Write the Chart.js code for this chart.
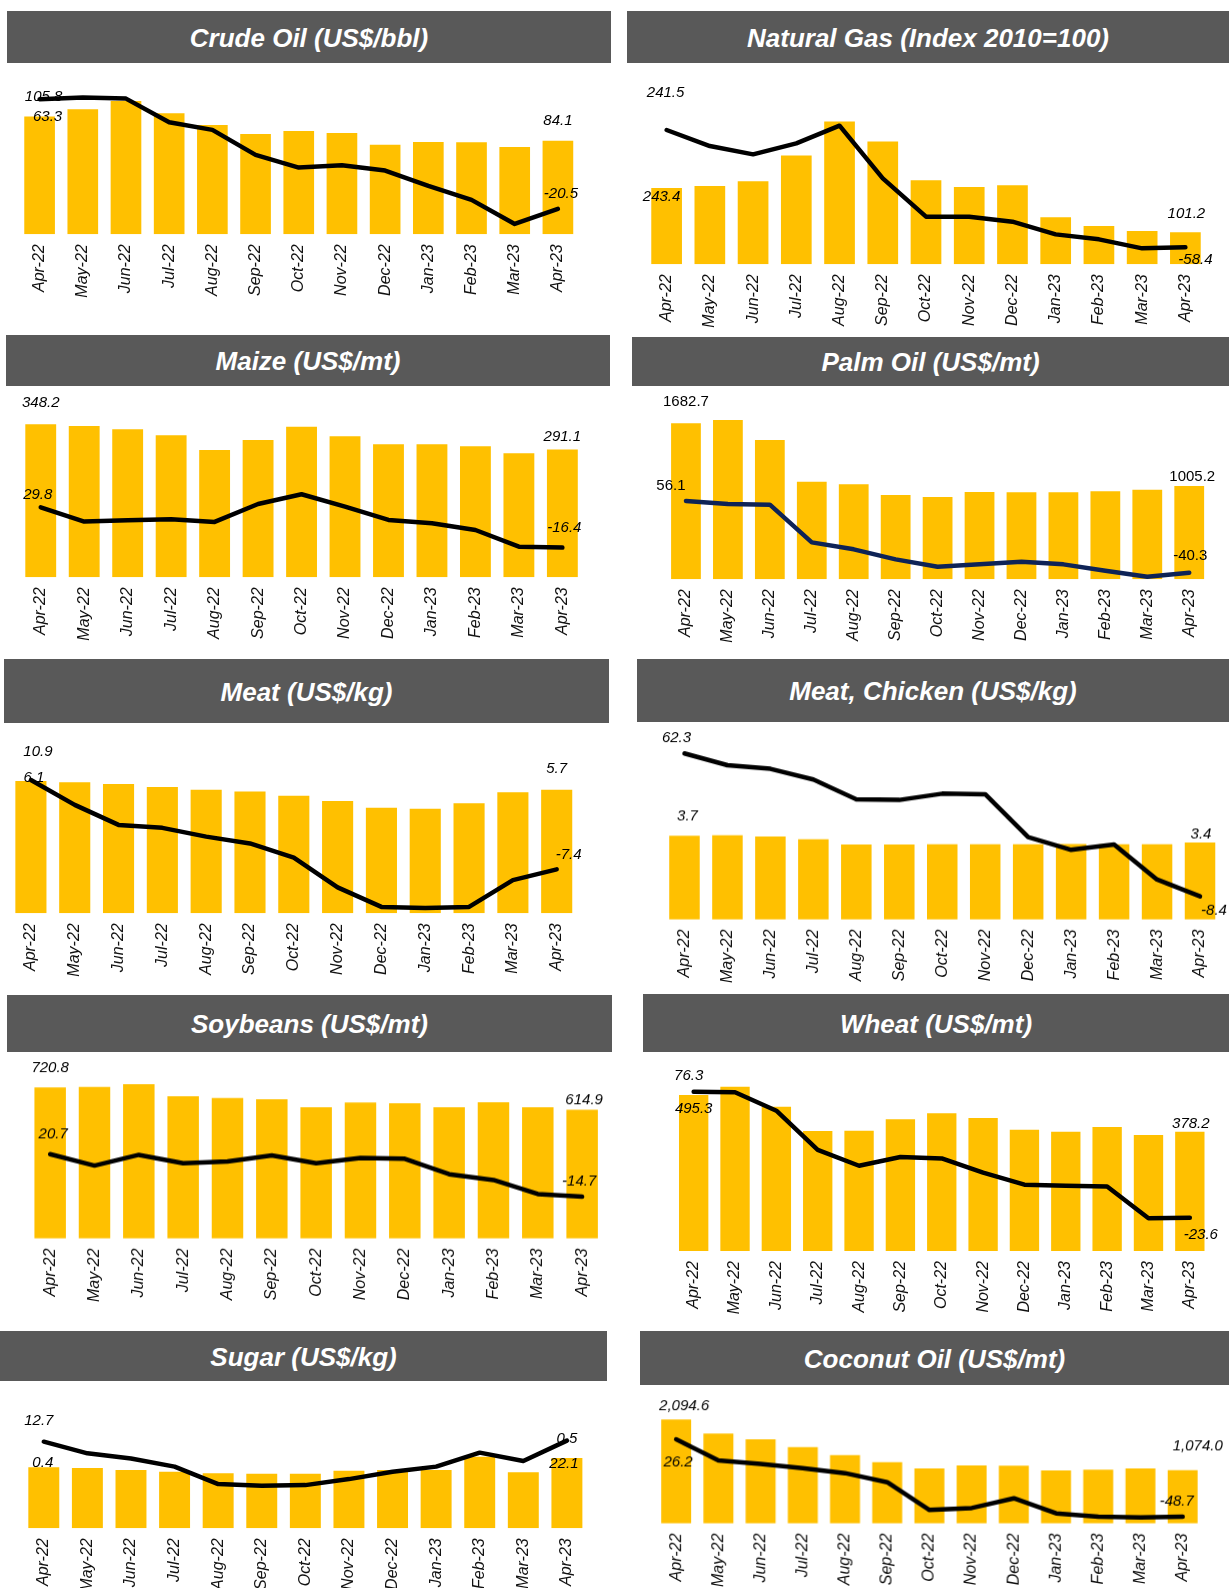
<!DOCTYPE html>
<html>
<head>
<meta charset="utf-8">
<script src="https://cdn.jsdelivr.net/npm/chart.js@4.4.0/dist/chart.umd.min.js"></script>
<style>
  html, body { margin: 0; padding: 0; background: #fff; overflow: hidden; }
  #page { position: relative; width: 1229px; height: 1588px; overflow: hidden; }
  .hdr { position: absolute; background: #595959; color: #fff; font: italic bold 26px "Liberation Sans", Arial, sans-serif;
         display: flex; align-items: center; justify-content: center; white-space: nowrap; padding-top: 2px; box-sizing: border-box; }
  .box { position: absolute; }
</style>
</head>
<body>
<div id="page"></div>
<script>
/* Commodity prices (bars) and y/y change in % (line) */
const months = ['Apr-22','May-22','Jun-22','Jul-22','Aug-22','Sep-22','Oct-22','Nov-22','Dec-22','Jan-23','Feb-23','Mar-23','Apr-23'];

const crudePrice   = [105.8, 112.4, 119.9, 108.8, 98.3, 90.2, 92.9, 91.1, 80.6, 83.0, 82.7, 78.5, 84.1];
const crudeYoY     = [63.3, 64.6, 63.8, 45.7, 39.9, 20.8, 11.1, 12.9, 8.8, -2.9, -13.6, -32.0, -20.5];
const gasIndex     = [241.5, 248, 263, 344, 452, 389, 266, 245, 250, 149, 121, 105, 101.2];
const gasYoY       = [243.4, 202.2, 180.8, 209.1, 254.5, 119.1, 20.5, 20.5, 7.6, -25.0, -37.8, -61.0, -58.4];
const maizePrice   = [348.2, 344.4, 336.8, 323.2, 289.8, 312.5, 342.9, 320.9, 302.7, 302.7, 298.1, 282.2, 291.1];
const maizeYoY     = [29.8, 13.4, 14.9, 16.1, 13.0, 33.6, 44.7, 30.6, 15.3, 11.5, 3.8, -15.3, -16.4];
const palmPrice    = [1682.7, 1718.6, 1502.9, 1053.5, 1024.7, 909.7, 888.1, 942.0, 938.4, 938.4, 949.2, 967.2, 1005.2];
const palmYoY      = [56.1, 52.1, 51.2, 0.5, -8.9, -22.4, -32.2, -29.1, -25.5, -29.1, -37.6, -45.7, -40.3];
const meatPrice    = [6.1, 6.04, 5.96, 5.82, 5.69, 5.62, 5.42, 5.18, 4.86, 4.82, 5.07, 5.58, 5.7];
const meatYoY      = [10.9, 5.8, 1.7, 1.1, -0.7, -2.1, -5.0, -11.1, -15.1, -15.3, -15.1, -9.6, -7.4];
const chickenPrice = [3.7, 3.73, 3.67, 3.55, 3.32, 3.32, 3.33, 3.33, 3.33, 3.34, 3.33, 3.33, 3.4];
const chickenYoY   = [62.3, 56.5, 54.7, 49.4, 39.6, 39.3, 42.4, 42.1, 20.9, 14.6, 17.3, -0.1, -8.4];
const soyPrice     = [720.8, 724.0, 736.8, 679.3, 671.3, 664.9, 626.5, 648.9, 645.7, 626.5, 650.5, 626.5, 614.9];
const soyYoY       = [20.7, 11.2, 20.1, 13.2, 14.6, 19.6, 13.2, 17.6, 16.8, 4.0, -0.8, -12.5, -14.7];
const wheatPrice   = [495.3, 521.8, 458.3, 381.0, 382.1, 418.0, 437.1, 422.3, 385.2, 378.9, 393.7, 368.3, 378.2];
const wheatYoY     = [76.3, 75.8, 61.2, 30.1, 17.6, 24.5, 23.4, 12.1, 2.6, 1.8, 1.2, -24.1, -23.6];
const sugarPrice   = [0.42, 0.415, 0.402, 0.39, 0.379, 0.376, 0.376, 0.397, 0.402, 0.402, 0.493, 0.386, 0.484];
const sugarYoY     = [12.7, 7.3, 4.9, 1.1, -7.0, -7.8, -7.5, -4.7, -1.3, 1.1, 7.6, 3.7, 13.2];
const sugarPrinted = ['0.4', '12.7', '0.5', '22.1'];   // labels as printed on the source
const coconutPrice = [2094.6, 1810.8, 1696.0, 1540.6, 1378.4, 1236.5, 1108.1, 1168.9, 1162.2, 1067.6, 1081.1, 1108.1, 1074.0];
const coconutYoY   = [26.2, 5.8, 2.5, -1.7, -6.5, -15.3, -42.2, -40.3, -30.9, -45.5, -48.7, -49.4, -48.7];

const FONT = '"Liberation Sans", Arial, sans-serif';
const BAR = '#FFC000';
const X_H = 66, PAD_X = 40, PAD_T = 10;

// box: header [x, y, w, h]; area: chart area [left, right, top, bottom]
// scale: [barMax, lineMin, lineMax]; tags: label offsets [barFirst, lineFirst, barLast, lineLast]
const panels = [
  { title: 'Crude Oil (US$/bbl)', bars: crudePrice, line: crudeYoY,
    box: [7, 11, 604, 52], area: [17.7, 579.2, 68, 234.3], scale: [149.5, -39.9, 87.2],
    tags: [[4, -20], [8, 18], [0, -20], [3, -15]] },
  { title: 'Natural Gas (Index 2010=100)', bars: gasIndex, line: gasYoY,
    box: [627, 11, 602, 52], area: [644.7, 1206.7, 68, 264.3], scale: [621.2, -102.0, 402.9],
    tags: [[-1, -95], [-5, 67], [1, -18], [10, 12]] },
  { title: 'Maize (US$/mt)', bars: maizePrice, line: maizeYoY,
    box: [6, 335, 604, 51], area: [19.2, 584.3, 391, 577.3], scale: [424.0, -50.4, 163.0],
    tags: [[0, -21], [-3, -12], [0, -13], [2, -20]] },
  { title: 'Palm Oil (US$/mt)', bars: palmPrice, line: palmYoY, lineColor: '#0E2356', upright: true,
    box: [632, 337, 597, 49], area: [664.9, 1210.1, 391, 579.3], scale: [2031.1, -49.2, 204.1],
    tags: [[0, -21], [-15, -15], [3, -9], [1, -17]] },
  { title: 'Meat (US$/kg)', bars: meatPrice, line: meatYoY,
    box: [4, 659, 605, 64], area: [8.65, 578.3, 727, 913.3], scale: [8.588, -16.41, 21.76],
    tags: [[3, -3], [7, -28], [0, -21], [12, -14]] },
  { title: 'Meat, Chicken (US$/kg)', bars: chickenPrice, line: chickenYoY,
    box: [637, 659, 592, 63], area: [662.8, 1221.3, 727, 918.7], scale: [8.511, -19.85, 75.36],
    tags: [[3, -20], [-8, -15], [1, -8], [14, 14]] },
  { title: 'Soybeans (US$/mt)', bars: soyPrice, line: soyYoY,
    box: [7, 995, 605, 57], area: [28.1, 604.4, 1057, 1237.7], scale: [866.4, -49.53, 101.55],
    tags: [[0, -20], [3, -20], [2, -10], [-3, -15]] },
  { title: 'Wheat (US$/mt)', bars: wheatPrice, line: wheatYoY,
    box: [643, 994, 586, 58], area: [672.5, 1210, 1057, 1251], scale: [615.9, -50.0, 103.8],
    tags: [[0, 14], [-5, -16], [1, -8], [11, 17]] },
  { title: 'Sugar (US$/kg)', bars: sugarPrice, line: sugarYoY, printed: sugarPrinted,
    box: [0, 1331, 607, 50], area: [21.7, 588.4, 1386, 1528.3], scale: [0.9798, -27.58, 38.6],
    tags: [[-1, -4], [-5, -21], [0, -19], [-3, 23]] },
  { title: 'Coconut Oil (US$/mt)', bars: coconutPrice, line: coconutYoY, comma: true,
    box: [640, 1331, 589, 54], area: [654.9, 1202.7, 1390, 1522.7], scale: [2690, -55.2, 73.9],
    tags: [[8, -14], [2, 23], [15, -24], [-6, -15]] }
];

Chart.defaults.font.family = FONT;
Chart.defaults.animation = false;

/* first / last value labels for bars and line */
const endLabels = {
  id: 'endLabels',
  afterDatasetsDraw(chart, args, opts) {
    const ctx = chart.ctx;
    const lineMeta = chart.getDatasetMeta(0), barMeta = chart.getDatasetMeta(1);
    const last = barMeta.data.length - 1;
    const spots = [[barMeta, 0], [lineMeta, 0], [barMeta, last], [lineMeta, last]];
    ctx.save();
    ctx.fillStyle = '#000';
    ctx.font = opts.font;
    ctx.textAlign = 'center';
    ctx.textBaseline = 'middle';
    spots.forEach(([meta, i], k) => {
      const el = meta.data[i];
      ctx.fillText(opts.texts[k], el.x + opts.offsets[k][0], el.y + opts.offsets[k][1]);
    });
    ctx.restore();
  }
};

function fmt(v, comma) {
  if (comma) return v.toLocaleString('en-US', { minimumFractionDigits: 1, maximumFractionDigits: 1 });
  return v.toFixed(1);
}

const page = document.getElementById('page');

panels.forEach((p, n) => {
  const [hx, hy, hw, hh] = p.box;
  const hdr = document.createElement('div');
  hdr.className = 'hdr';
  hdr.style.cssText = `left:${hx}px;top:${hy}px;width:${hw}px;height:${hh}px;`;
  hdr.textContent = p.title;
  page.appendChild(hdr);

  const [al, ar, at, ab] = p.area;
  const box = document.createElement('div');
  box.className = 'box';
  box.style.cssText = `left:${al - PAD_X}px;top:${at - PAD_T}px;width:${ar - al + 2 * PAD_X}px;height:${ab - at + PAD_T + X_H}px;`;
  const canvas = document.createElement('canvas');
  canvas.id = 'chart' + n;
  box.appendChild(canvas);
  page.appendChild(box);

  const endIdx = p.bars.length - 1;
  const texts = p.printed || [fmt(p.bars[0], p.comma), fmt(p.line[0], p.comma), fmt(p.bars[endIdx], p.comma), fmt(p.line[endIdx], p.comma)];

  new Chart(canvas, {
    type: 'bar',
    data: {
      labels: months,
      datasets: [
        {
          type: 'line',
          data: p.line,
          yAxisID: 'y1',
          order: 0,
          borderColor: p.lineColor || '#000',
          borderWidth: 4.5,
          borderCapStyle: 'round',
          borderJoinStyle: 'round',
          pointRadius: 0,
          tension: 0,
          fill: false,
          clip: false
        },
        {
          type: 'bar',
          data: p.bars,
          yAxisID: 'y',
          order: 1,
          backgroundColor: BAR,
          borderWidth: 0,
          barPercentage: 0.71,
          categoryPercentage: 1.0
        }
      ]
    },
    options: {
      responsive: true, maintainAspectRatio: false,
      layout: { padding: { top: PAD_T, left: PAD_X, right: PAD_X, bottom: 0 } },
      plugins: {
        legend: { display: false },
        tooltip: { enabled: false },
        endLabels: {
          texts,
          offsets: p.tags,
          font: (p.upright ? '' : 'italic ') + '15px ' + FONT
        }
      },
      scales: {
        x: {
          grid: { display: false, drawTicks: false },
          border: { display: false },
          ticks: {
            autoSkip: false, maxRotation: 90, minRotation: 90, padding: 10,
            color: '#111', font: { size: 16, style: 'italic' }
          },
          afterFit: s => { s.height = X_H; }
        },
        y: { display: false, min: 0, max: p.scale[0] },
        y1: { display: false, min: p.scale[1], max: p.scale[2] }
      }
    },
    plugins: [endLabels]
  });
});
</script>
</body>
</html>
